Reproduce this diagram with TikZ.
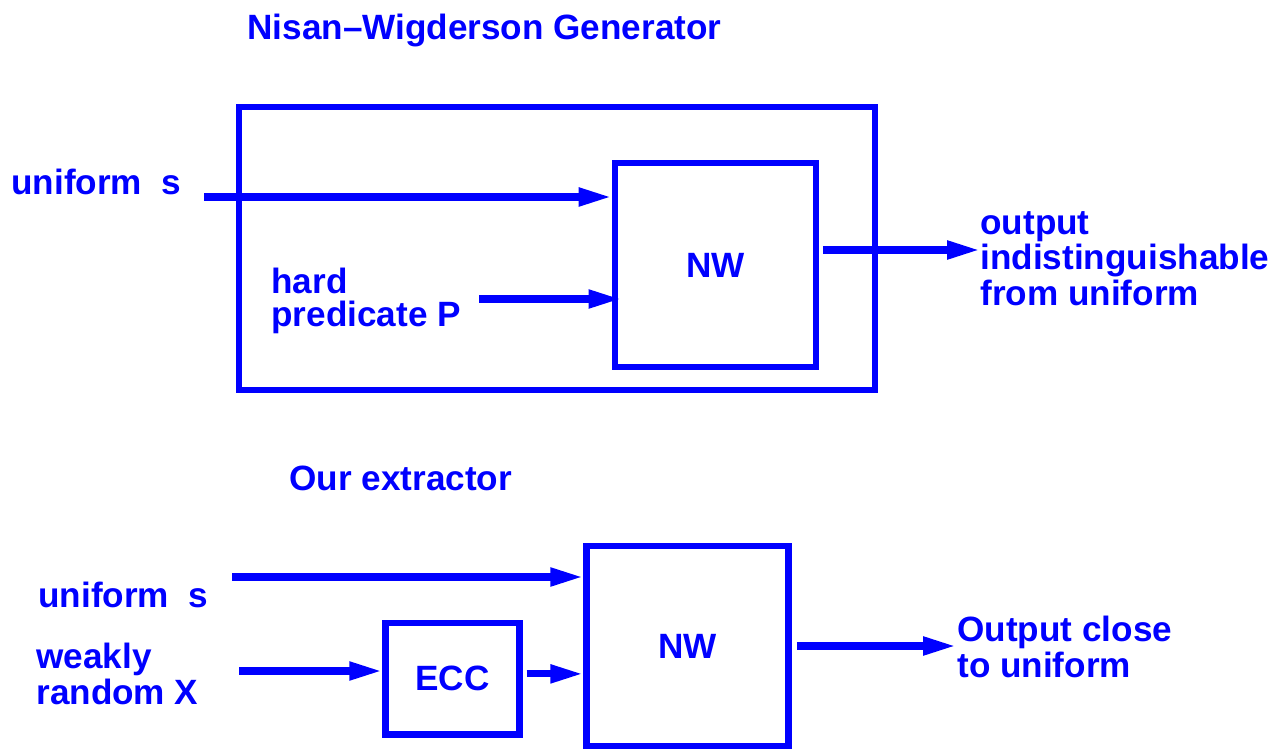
\documentclass[tikz,border=0pt]{standalone}
\usepackage{fontspec}
\setmainfont{Liberation Sans}
\usetikzlibrary{arrows.meta, positioning, calc}
\definecolor{nwblue}{RGB}{0,0,255}

\begin{document}
\begin{tikzpicture}[x=0.02cm, y=-0.02cm,
        font=\fontsize{20}{20.4}\selectfont\bfseries, text=nwblue,
        box/.style={rectangle, draw=nwblue, line width=3.9pt, inner sep=0pt},
        lbl/.style={anchor=base west, inner sep=0pt, align=left},
        arr/.style={draw=nwblue, line width=4pt, -{Triangle[length=18.7pt, width=9.8pt]}}
    ]
        \useasboundingbox (0,0) rectangle (1277,749);
        % Nisan-Wigderson generator
        \node[lbl] (title1) at (247,40) {Nisan--Wigderson Generator};
        \node[box, minimum width=12.72cm, minimum height=5.66cm] (gen) at (557,248.5) {};
        \node[box, minimum width=4.02cm, minimum height=4.08cm] (nw1) at (715.5,265) {NW};
        \node[lbl] (us1) at (11,195) {uniform\ \ s};
        \node[lbl] (hp) at (271,326.7) {hard\\[-1.4pt]predicate P};
        \node[lbl] (out1) at (980,305.7) {output\\indistinguishable\\from uniform};
        \coordinate (s1) at (204,197);
        \coordinate (p1) at (479,299);
        \coordinate (o1) at (980,250);
        \draw[arr] (s1) -- (s1 -| nw1.west);
        \draw[arr, shorten >=-5.6pt] (p1) -- (p1 -| nw1.west);
        \draw[arr, shorten <=2pt] (nw1.east |- o1) -- (o1);
        % our extractor
        \node[lbl] (title2) at (289,490) {Our extractor};
        \node[box, minimum width=4.03cm, minimum height=4.0cm] (nw2) at (687.4,646) {NW};
        \node[box, minimum width=2.68cm, minimum height=2.23cm] (ecc) at (452.6,678.8) {ECC};
        \node[lbl] (us2) at (38,607) {uniform\ \ s};
        \node[lbl] (wx) at (36,704) {weakly\\random X};
        \node[lbl] (out2) at (957,677) {Output close\\to uniform};
        \coordinate (s2) at (232,577);
        \coordinate (x1) at (239,671);
        \coordinate (o2) at (956,646);
        \draw[arr] (s2) -- (s2 -| nw2.west);
        \draw[arr] (x1) -- (x1 -| ecc.west);
        \draw[arr, shorten <=2pt] ([yshift=2.8]ecc.east) -- ([yshift=2.8]ecc.east -| nw2.west);
        \draw[arr, shorten <=3pt] (nw2.east) -- (o2);
    \end{tikzpicture}
\end{document}
